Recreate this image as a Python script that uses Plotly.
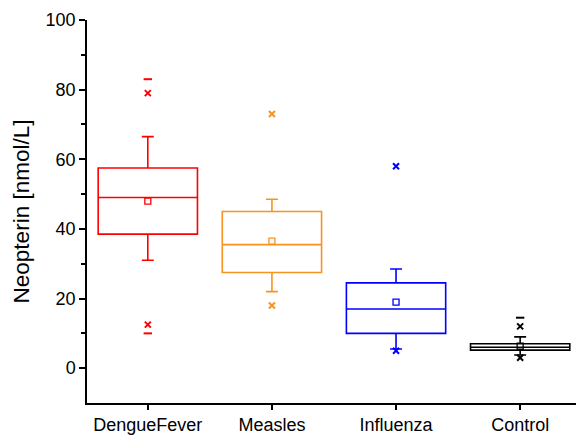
import plotly.graph_objects as go

categories = ["DengueFever", "Measles", "Influenza", "Control"]
q1 = [38.5, 27.5, 10.0, 5.2]
median = [49.0, 35.5, 17.0, 6.0]
q3 = [57.5, 45.0, 24.5, 7.0]
lower_whisker = [31.0, 22.0, 5.5, 3.8]
upper_whisker = [66.5, 48.5, 28.5, 9.0]
means = [48.0, 36.5, 19.0, 6.3]
outliers_x = [[79.0, 12.5], [73.0, 18.0], [58.0, 5.0], [12.0, 3.0]]
extremes = [[83.0, 10.0], [], [], [14.5]]
colors = ["#FF0000", "#F7931E", "#0000FF", "#000000"]

fig = go.Figure()
for i, cat in enumerate(categories):
    c = colors[i]
    fig.add_trace(go.Box(
        x=[i], q1=[q1[i]], median=[median[i]], q3=[q3[i]],
        lowerfence=[lower_whisker[i]], upperfence=[upper_whisker[i]],
        width=0.8, whiskerwidth=0.12, line=dict(color=c, width=1.6),
        fillcolor="rgba(0,0,0,0)", boxpoints=False, showlegend=False,
    ))
    fig.add_trace(go.Scatter(
        x=[i], y=[means[i]], mode="markers", showlegend=False,
        marker=dict(symbol="square-open", size=6, color=c, line=dict(width=1.3, color=c)),
    ))
    fig.add_trace(go.Scatter(
        x=[i] * len(outliers_x[i]), y=outliers_x[i], mode="markers", showlegend=False,
        marker=dict(symbol="x-thin", size=6, color=c, line=dict(width=2, color=c)),
    ))
    if extremes[i]:
        fig.add_trace(go.Scatter(
            x=[i] * len(extremes[i]), y=extremes[i], mode="markers", showlegend=False,
            marker=dict(symbol="line-ew", size=6, color=c, line=dict(width=2, color=c)),
        ))

fig.update_layout(
    width=576, height=439,
    margin=dict(l=87, r=0, t=20, b=36),
    plot_bgcolor="white", paper_bgcolor="white",
    font=dict(family="Liberation Sans, Arial, sans-serif", size=18, color="black"),
    xaxis=dict(
        range=[-0.49, 3.45], tickmode="array", tickvals=[0, 1, 2, 3], ticktext=categories,
        showline=True, linecolor="black", linewidth=1.5, ticks="outside", ticklen=5,
        tickwidth=1.5, tickcolor="black", showgrid=False,
        zeroline=False, tickfont=dict(size=18), automargin=False,
    ),
    yaxis=dict(
        range=[-10, 100], tickvals=[0, 20, 40, 60, 80, 100],
        showline=True, linecolor="black", linewidth=1.5, ticks="outside", ticklen=6,
        tickwidth=1.5, tickcolor="black", showgrid=False, zeroline=False,
        minor=dict(tickvals=[10, 30, 50, 70, 90], ticks="outside", ticklen=4, tickwidth=1.5, tickcolor="black"),
        title=dict(text="Neopterin [nmol/L]", font=dict(size=22.5), standoff=10),
        tickfont=dict(size=18), automargin=False,
    ),
)

fig.write_html("out.html", config={"displayModeBar": False},
               post_script="document.body.style.margin='0';document.body.style.padding='0';")
